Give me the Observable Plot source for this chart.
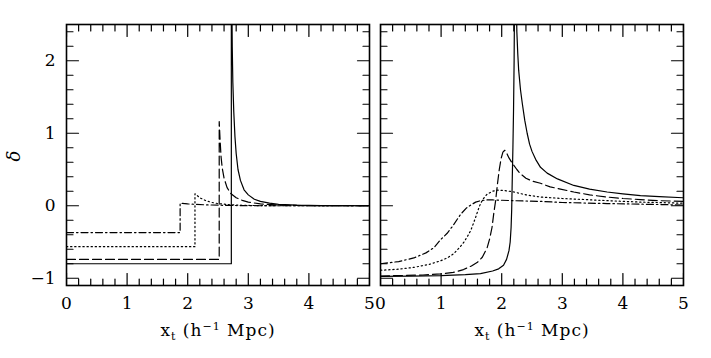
<!DOCTYPE html>
<html>
<head>
<meta charset="utf-8">
<script src="https://cdn.jsdelivr.net/npm/d3@7"></script>
<script src="https://cdn.jsdelivr.net/npm/@observablehq/plot@0.6"></script>
<style>
  html, body { margin: 0; padding: 0; background: #fff; }
  #wrap { position: relative; width: 711px; height: 358px; font-family: "DejaVu Serif", "Liberation Serif", serif; }
  #wrap svg { position: absolute; top: 0; overflow: visible; }
  .xlab { position: absolute; top: 320px; font-size: 17px; line-height: 20px; white-space: nowrap; transform: translateX(-50%); letter-spacing: 1px; }
  .xlab sub { font-size: 11px; vertical-align: -4px; line-height: 0; }
  .xlab sup { font-size: 11px; vertical-align: 6px; line-height: 0; }
  .ylab { position: absolute; left: 9px; top: 146px; font-size: 18px; line-height: 20px; font-style: italic; transform: rotate(-90deg); }
</style>
</head>
<body>
<div id="wrap"></div>
<script>
// ---- data ----
const xMajor = [0, 1, 2, 3, 4, 5];
const xMinor = [0.2, 0.4, 0.6, 0.8, 1.2, 1.4, 1.6, 1.8, 2.2, 2.4, 2.6, 2.8, 3.2, 3.4, 3.6, 3.8, 4.2, 4.4, 4.6, 4.8];
const yMajor = [-1, 0, 1, 2];
const yMinor = [-0.8, -0.6, -0.4, -0.2, 0.2, 0.4, 0.6, 0.8, 1.2, 1.4, 1.6, 1.8, 2.2, 2.4];

// left panel (x, delta)
const leftSolid = [[0,-0.80],[2.72,-0.80],[2.72,2.9],[2.728,2.9],[2.735,2.2],[2.745,1.7],[2.76,1.3],[2.78,0.95],[2.8,0.72],[2.83,0.5],[2.87,0.35],[2.93,0.22],[3.0,0.15],[3.1,0.09],[3.2,0.06],[3.35,0.035],[3.5,0.02],[3.8,0.008],[4.2,0.002],[5,0]];
const leftDashed = [[0,-0.74],[2.52,-0.74],[2.52,1.16],[2.535,0.9],[2.55,0.68],[2.57,0.52],[2.6,0.38],[2.65,0.25],[2.71,0.17],[2.8,0.11],[2.9,0.075],[3.0,0.05],[3.2,0.025],[3.5,0.01],[4.0,0.002],[5,0]];
const leftDotted = [[0,-0.565],[2.12,-0.565],[2.12,0.165],[2.2,0.11],[2.3,0.07],[2.4,0.045],[2.5,0.03],[2.7,0.013],[3.0,0.004],[3.5,0],[5,0]];
const leftDashDot = [[0,-0.37],[1.875,-0.37],[1.875,0.035],[2.0,0.025],[2.3,0.012],[2.7,0.004],[3.2,0],[5,0]];

// right panel (x, delta)
const rightSolid = [[0,-0.975],[0.5,-0.972],[1.0,-0.965],[1.4,-0.95],[1.65,-0.935],[1.85,-0.9],[1.95,-0.87],[2.03,-0.82],[2.08,-0.74],[2.12,-0.62],[2.14,-0.5],[2.155,-0.3],[2.165,-0.05],[2.175,0.4],[2.185,0.8],[2.195,1.3],[2.205,2.0],[2.212,2.9],[2.24,2.9],[2.25,2.4],[2.265,2.1],[2.28,1.87],[2.31,1.6],[2.34,1.41],[2.38,1.18],[2.42,1.0],[2.46,0.85],[2.5,0.75],[2.56,0.64],[2.64,0.53],[2.75,0.45],[2.92,0.37],[3.19,0.28],[3.45,0.23],[3.74,0.19],[4.0,0.165],[4.29,0.14],[4.6,0.125],[5,0.11]];
const rightDashed = [[0,-0.97],[0.3,-0.963],[0.7,-0.955],[1.0,-0.94],[1.2,-0.92],[1.37,-0.88],[1.5,-0.83],[1.6,-0.78],[1.68,-0.71],[1.76,-0.58],[1.8,-0.46],[1.84,-0.3],[1.87,-0.1],[1.9,0.07],[1.93,0.3],[1.96,0.5],[1.99,0.65],[2.02,0.74],[2.05,0.765],[2.08,0.73],[2.12,0.66],[2.18,0.58],[2.25,0.5],[2.31,0.44],[2.4,0.38],[2.5,0.34],[2.64,0.31],[2.8,0.26],[2.97,0.23],[3.19,0.19],[3.45,0.15],[3.74,0.12],[4.0,0.1],[4.29,0.085],[4.6,0.07],[5,0.06]];
const rightDotted = [[0,-0.89],[0.3,-0.875],[0.55,-0.85],[0.8,-0.81],[0.99,-0.76],[1.1,-0.72],[1.21,-0.66],[1.3,-0.58],[1.37,-0.51],[1.43,-0.43],[1.49,-0.34],[1.53,-0.25],[1.57,-0.16],[1.61,-0.06],[1.65,0.03],[1.7,0.1],[1.76,0.16],[1.85,0.2],[1.93,0.215],[2.05,0.21],[2.2,0.19],[2.4,0.15],[2.64,0.12],[3.0,0.1],[3.5,0.08],[3.74,0.07],[4.3,0.05],[5,0.035]];
const rightDashDot = [[0,-0.80],[0.3,-0.77],[0.55,-0.72],[0.75,-0.65],[0.88,-0.58],[0.99,-0.47],[1.1,-0.38],[1.2,-0.27],[1.32,-0.12],[1.42,-0.03],[1.49,0.01],[1.57,0.05],[1.65,0.07],[1.75,0.08],[1.85,0.08],[2.2,0.07],[2.64,0.06],[3.0,0.045],[3.74,0.03],[4.4,0.02],[5,0.01]];

const dashes = {solid: null, dashed: "9,4", dotted: "1.3,2.8", dashdot: "7,3,1.5,3"};

const xDomain = [0, 5], yDomain = [-1.1, 2.5];
const innerW = 303, innerH = 261, majorLen = 12, minorLen = 6.5;
const fontName = "DejaVu Serif, Liberation Serif, serif";
const fmt = d => d < 0 ? "\u2212" + Math.abs(d) : String(d);

// inward tick segments, built from the tick arrays (length converted from px to data units)
function tickSegments() {
  const segs = [];
  const ux = (xDomain[1] - xDomain[0]) / innerW, uy = (yDomain[1] - yDomain[0]) / innerH;
  let k = 0;
  for (const [vals, len] of [[xMinor, minorLen], [xMajor, majorLen]]) {
    for (const v of vals) {
      segs.push({k, x: v, y: yDomain[0]}, {k: k++, x: v, y: yDomain[0] + len * uy});
      segs.push({k, x: v, y: yDomain[1]}, {k: k++, x: v, y: yDomain[1] - len * uy});
    }
  }
  for (const [vals, len] of [[yMinor, minorLen], [yMajor, majorLen]]) {
    for (const v of vals) {
      segs.push({k, x: xDomain[0], y: v}, {k: k++, x: xDomain[0] + len * ux, y: v});
      segs.push({k, x: xDomain[1], y: v}, {k: k++, x: xDomain[1] - len * ux, y: v});
    }
  }
  return segs;
}

function panel(series, {width, marginLeft, marginRight, showY}) {
  const ln = (data, dash) => Plot.line(data, {x: d => d[0], y: d => d[1], stroke: "black", strokeWidth: 1.2, strokeDasharray: dash, clip: true});
  const marks = [
    ln(series[0], dashes.solid),
    ln(series[1], dashes.dashed),
    ln(series[2], dashes.dotted),
    ln(series[3], dashes.dashdot),
    Plot.line(tickSegments(), {x: "x", y: "y", z: "k", stroke: "black", strokeWidth: 1.2, clip: true}),
    Plot.frame({stroke: "black", strokeWidth: 1.6}),
    Plot.axisX({anchor: "bottom", ticks: xMajor, tickSize: 0, tickPadding: 11, tickFormat: fmt, fontSize: 17, label: null})
  ];
  if (showY) marks.push(Plot.axisY({anchor: "left", ticks: yMajor, tickSize: 0, tickPadding: 11, tickFormat: fmt, fontSize: 17, label: null}));
  else marks.push(Plot.axisY({anchor: "left", ticks: [], tickSize: 0, label: null}));
  return Plot.plot({
    width, height: 358,
    marginLeft, marginRight, marginTop: 24, marginBottom: 73,
    x: {domain: xDomain},
    y: {domain: yDomain},
    style: {fontFamily: fontName, fontSize: "17px", color: "black", background: "transparent", overflow: "visible"},
    marks
  });
}

const wrap = document.getElementById("wrap");
const leftPlot = panel([leftSolid, leftDashed, leftDotted, leftDashDot], {width: 375, marginLeft: 66, marginRight: 6, showY: true});
leftPlot.style.left = "0px";
const rightPlot = panel([rightSolid, rightDashed, rightDotted, rightDashDot], {width: 336, marginLeft: 5, marginRight: 28, showY: false});
rightPlot.style.left = "375px";
wrap.appendChild(leftPlot);
wrap.appendChild(rightPlot);

function xlabel(cx) {
  const d = document.createElement("div");
  d.className = "xlab";
  d.style.left = cx + "px";
  d.innerHTML = "x<sub>t</sub> (h<sup>\u22121</sup> Mpc)";
  wrap.appendChild(d);
}
xlabel(218);
xlabel(532);
const yl = document.createElement("div");
yl.className = "ylab";
yl.textContent = "δ";
wrap.appendChild(yl);
</script>
</body>
</html>
